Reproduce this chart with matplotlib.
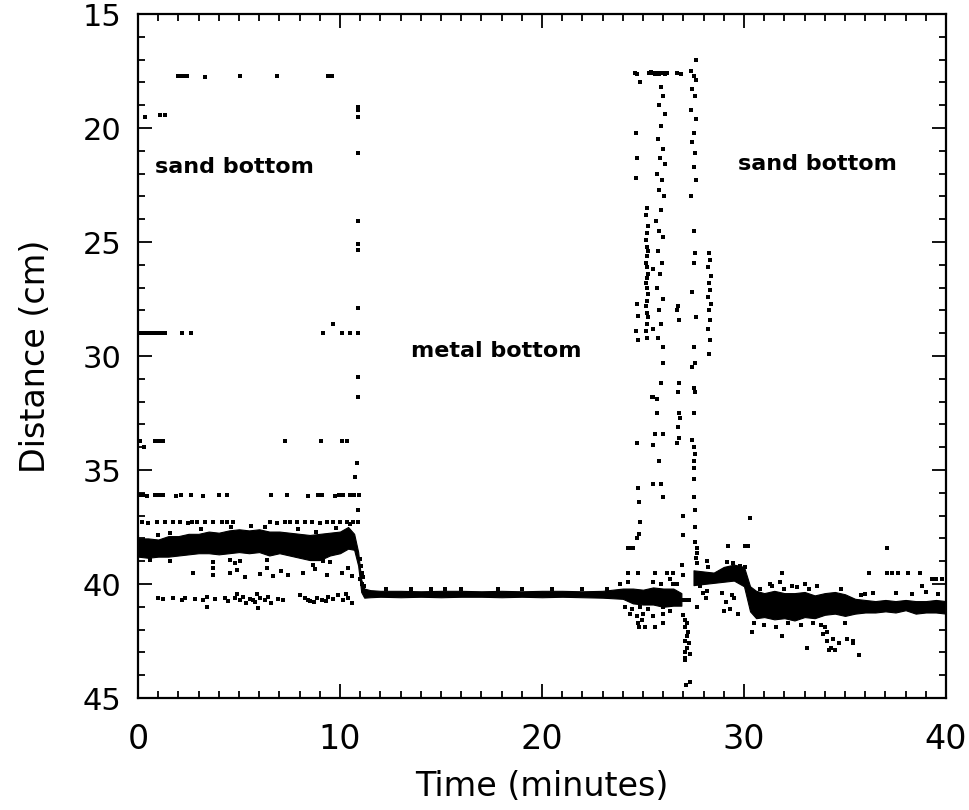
import matplotlib
matplotlib.use("Agg")
import matplotlib.pyplot as plt
from matplotlib.ticker import MultipleLocator

# ---------------- data ----------------
# dense core of the echo trace: time, upper distance, lower distance
band1_t   = [0.0, 0.5, 1.0, 1.5, 2.0, 2.5, 3.0, 3.5, 4.0, 4.5, 5.0, 5.5, 6.0, 6.5, 7.0, 7.5,
             8.0, 8.5, 9.0, 9.5, 10.0, 10.4, 10.7, 10.9, 11.05, 11.2, 11.5, 12.0, 13.0, 14.0,
             15.0, 16.0, 17.0, 18.0, 19.0, 20.0, 21.0, 22.0, 23.0, 24.0, 24.5, 25.0, 25.5,
             26.0, 26.5, 26.9]
band1_top = [38.0, 38.0, 38.05, 37.9, 37.9, 37.8, 37.8, 37.7, 37.75, 37.65, 37.6, 37.65, 37.6,
             37.7, 37.7, 37.75, 37.8, 37.85, 37.8, 37.75, 37.7, 37.5, 37.8, 38.6, 39.8, 40.2,
             40.27, 40.3, 40.3, 40.32, 40.3, 40.3, 40.32, 40.3, 40.32, 40.3, 40.3, 40.32, 40.3,
             40.2, 40.2, 40.25, 40.15, 40.2, 40.2, 40.4]
band1_bot = [38.8, 38.85, 38.8, 38.8, 38.75, 38.7, 38.65, 38.65, 38.7, 38.65, 38.6, 38.65, 38.6,
             38.75, 38.65, 38.75, 38.85, 38.95, 38.95, 38.75, 38.65, 38.45, 38.5, 39.2, 40.35,
             40.6, 40.58, 40.56, 40.58, 40.56, 40.58, 40.56, 40.56, 40.58, 40.56, 40.58, 40.56,
             40.58, 40.6, 40.65, 40.85, 40.9, 40.9, 41.0, 40.95, 40.95]

band2_t   = [27.5, 28.0, 28.5, 29.0, 29.5, 30.0, 30.3, 30.6, 31.0, 31.5, 32.0, 32.5, 33.0,
             33.5, 34.0, 34.5, 35.0, 35.5, 36.0, 36.5, 37.0, 37.5, 38.0, 38.5, 39.0, 39.5, 40.0]
band2_top = [39.4, 39.45, 39.5, 39.25, 39.15, 39.25, 40.1, 40.3, 40.4, 40.3, 40.4, 40.4, 40.35,
             40.5, 40.4, 40.35, 40.45, 40.65, 40.7, 40.75, 40.7, 40.75, 40.7, 40.75, 40.75,
             40.7, 40.75]
band2_bot = [40.05, 40.0, 39.95, 39.9, 39.85, 40.1, 41.2, 41.5, 41.45, 41.55, 41.5, 41.6,
             41.45, 41.5, 41.35, 41.3, 41.4, 41.3, 41.25, 41.25, 41.2, 41.25, 41.15, 41.3,
             41.25, 41.25, 41.3]

# scattered echoes, first sand bottom (time, distance)
sand1_pts = [
    (2.0, 17.7), (2.15, 17.7), (2.3, 17.72), (2.45, 17.7), (3.3, 17.75), (5.05, 17.72),
    (6.9, 17.7), (9.4, 17.7), (9.5, 17.72), (9.6, 17.7),
    (0.35, 19.5), (1.1, 19.45), (1.35, 19.45),
    (10.9, 19.1), (10.9, 19.2), (10.9, 19.5), (10.9, 21.1), (10.9, 24.1), (10.9, 25.1),
    (10.9, 25.35), (10.9, 27.9), (10.9, 30.9), (10.9, 31.8), (10.85, 34.7), (10.75, 35.3),
    (10.9, 36.75),
    (0.1, 29.0), (0.25, 29.0), (0.45, 29.0), (0.6, 29.0), (0.75, 29.0), (0.9, 29.0),
    (1.05, 29.0), (1.2, 29.0), (1.35, 29.0), (2.2, 29.0), (2.6, 29.0), (9.15, 29.0),
    (9.65, 28.6), (10.1, 29.0), (10.5, 29.0), (10.9, 29.0),
    (0.1, 33.73), (0.3, 34.0), (0.85, 33.73), (1.05, 33.73), (1.25, 33.73), (7.28, 33.73),
    (9.06, 33.73), (10.1, 33.73), (10.35, 33.73),
    (0.1, 36.1), (0.25, 36.1), (0.45, 36.12), (0.85, 36.1), (1.05, 36.1), (1.25, 36.1),
    (1.9, 36.12), (2.15, 36.1), (2.6, 36.1), (3.2, 36.12), (4.0, 36.1), (4.4, 36.1),
    (6.6, 36.1), (7.4, 36.1), (8.4, 36.12), (8.9, 36.1), (9.1, 36.1), (9.75, 36.12),
    (9.95, 36.1), (10.15, 36.1), (10.5, 36.1), (10.7, 36.1), (10.95, 36.1),
    (0.18, 37.3), (0.51, 37.32), (0.92, 37.3), (1.34, 37.3), (1.75, 37.28), (2.08, 37.3),
    (2.49, 37.32), (2.66, 37.3), (2.9, 37.3), (3.32, 37.3), (3.73, 37.28), (4.14, 37.3),
    (4.39, 37.3), (4.72, 37.3), (6.53, 37.3), (6.86, 37.32), (7.28, 37.3), (7.52, 37.3),
    (7.85, 37.28), (8.27, 37.3), (8.6, 37.3), (9.01, 37.32), (9.34, 37.3), (9.67, 37.3),
    (10.0, 37.3), (10.33, 37.28), (10.66, 37.3), (10.9, 37.3),
    (1.0, 37.85), (1.6, 37.75), (3.1, 37.6), (4.6, 37.5), (5.6, 37.45), (6.3, 37.5),
    (7.9, 37.6), (8.8, 37.7), (9.8, 37.55), (10.5, 37.35),
    (1.0, 40.6), (1.25, 40.65), (1.75, 40.6), (2.16, 40.7), (2.33, 40.6), (2.82, 40.65),
    (3.23, 40.7), (3.4, 40.55), (3.81, 40.65), (4.31, 40.6), (4.47, 40.75), (4.8, 40.6),
    (5.05, 40.7), (5.21, 40.55), (5.54, 40.65), (5.79, 40.8), (6.04, 40.6), (6.29, 40.7),
    (6.45, 40.55), (6.95, 40.65), (7.2, 40.7), (8.27, 40.6), (8.52, 40.75), (8.84, 40.6),
    (9.09, 40.7), (9.42, 40.55), (9.67, 40.65), (10.17, 40.7), (10.41, 40.6),
    (4.9, 40.45), (5.35, 40.85), (5.9, 40.45), (6.6, 40.85), (8.0, 40.5), (8.7, 40.8),
    (9.9, 40.5), (10.6, 40.85), (10.3, 40.45), (5.7, 40.7), (8.4, 40.7), (9.3, 40.75),
    (2.74, 39.5), (3.73, 39.3), (3.73, 39.6), (4.55, 39.5), (4.88, 39.4), (5.3, 39.7),
    (6.04, 39.55), (6.37, 39.3), (6.7, 39.65), (7.1, 39.45), (7.44, 39.6), (8.18, 39.5),
    (8.76, 39.35), (9.34, 39.6), (10.08, 39.5), (10.41, 39.3), (10.58, 39.65),
    (0.6, 38.95), (1.58, 39.0), (3.73, 39.05), (4.55, 38.95), (4.8, 39.1), (5.05, 39.0),
    (6.37, 38.95), (8.68, 39.15), (9.17, 39.0), (9.5, 39.05), (5.96, 41.05), (3.4, 41.0),
    (11.0, 38.9), (11.05, 39.2), (11.1, 39.5), (11.0, 39.8), (11.1, 40.0), (11.15, 39.7),
    (11.2, 40.1), (11.25, 40.3),
]

# metal bottom scattered echoes
metal_pts = [(12.3, 40.2), (13.5, 40.22), (14.5, 40.2), (15.2, 40.22), (16.0, 40.2),
             (17.8, 40.2), (19.0, 40.22), (20.5, 40.2), (22.0, 40.22), (23.2, 40.2),
             (23.86, 40.0), (24.26, 39.9)]

# transition region (24 - 28.5 min)
spike_pts = [
    (24.26, 38.4), (24.35, 38.4), (24.5, 38.4), (24.85, 37.3), (24.8, 37.8), (24.8, 36.4),
    (24.26, 39.5), (24.75, 39.5),
    (24.1, 41.0), (24.45, 41.1), (24.7, 41.4), (24.75, 41.7), (24.8, 41.9), (24.36, 41.3),
    (24.85, 41.0), (25.0, 41.3), (24.95, 41.6), (25.1, 41.9), (25.25, 41.1), (25.5, 41.4),
    (25.6, 41.9), (26.0, 41.0), (26.0, 41.3), (26.0, 41.7), (26.34, 40.9), (26.34, 41.2),
    (25.6, 39.5), (26.2, 39.5), (26.5, 39.5), (25.5, 39.9), (25.9, 40.0), (26.34, 39.8),
    (26.5, 40.0), (26.7, 40.0),
    (26.9, 40.7), (27.0, 40.7), (27.1, 40.72), (27.2, 40.7), (27.3, 40.7),
    (26.98, 41.36), (27.08, 41.58), (27.18, 41.7), (27.08, 41.9), (27.23, 42.1),
    (27.18, 42.3), (27.08, 42.5), (27.28, 42.6), (27.2, 42.8), (27.1, 43.0), (27.33, 43.05),
    (27.08, 43.25), (27.08, 43.35), (27.33, 44.3), (27.15, 44.45),
    (26.98, 37.0), (26.98, 37.85), (26.93, 39.17), (26.98, 39.6),
    # column near 24.7 min
    (24.65, 20.2), (24.7, 21.3), (24.65, 22.2), (24.7, 27.7), (24.75, 28.25), (24.65, 28.9),
    (24.75, 29.3), (24.7, 33.8), (24.75, 35.8), (24.7, 38.0),
    # column near 25.2 min
    (25.2, 23.5), (25.15, 23.8), (25.25, 24.3), (25.2, 24.6), (25.15, 24.9), (25.2, 25.2),
    (25.25, 25.4), (25.2, 25.6), (25.15, 25.9), (25.2, 26.1), (25.25, 26.4), (25.2, 26.6),
    (25.15, 26.8), (25.2, 27.0), (25.25, 27.3), (25.2, 27.6), (25.15, 27.8), (25.2, 28.1),
    (25.25, 28.3), (25.2, 28.6), (25.15, 28.9), (25.2, 29.2),
    (25.5, 26.2), (25.5, 28.8), (25.5, 31.8), (25.5, 33.9), (25.5, 35.6),
    # column near 25.9 min
    (25.9, 18.2), (26.0, 18.6), (25.8, 19.0), (26.1, 19.4), (25.9, 19.9), (25.75, 20.5),
    (26.0, 20.9), (25.85, 21.3), (26.1, 21.6), (25.7, 22.0), (25.95, 22.3), (25.8, 22.7),
    (26.05, 23.0), (25.9, 23.6), (25.65, 24.1), (25.8, 24.5), (26.0, 24.8), (25.75, 25.4),
    (25.95, 25.9), (25.85, 26.4), (25.7, 27.0), (26.0, 27.5), (25.8, 28.0), (25.9, 28.6),
    (25.75, 29.2), (26.0, 29.6), (25.9, 31.2), (25.7, 31.9), (26.0, 33.4), (25.8, 34.6),
    (25.9, 35.6), (26.0, 36.2), (25.7, 32.5), (26.0, 30.3), (25.6, 33.4), (25.45, 31.8),
    # top row near 17.6 cm
    (24.6, 17.6), (24.7, 17.65), (25.3, 17.6), (25.4, 17.55), (25.5, 17.6), (25.6, 17.65),
    (25.7, 17.6), (25.8, 17.62), (25.9, 17.58), (26.0, 17.6), (26.1, 17.65), (26.2, 17.6),
    (26.7, 17.6), (26.9, 17.62), (24.85, 18.0),
    # column near 27.5 min
    (27.6, 17.0), (27.4, 17.5), (27.5, 17.7), (27.6, 17.9), (27.45, 18.3), (27.55, 18.6),
    (27.4, 19.2), (27.6, 19.6), (27.5, 20.2), (27.45, 20.6), (27.55, 21.1), (27.5, 21.7),
    (27.6, 22.3), (27.4, 23.0), (27.5, 24.5), (27.55, 25.5), (27.5, 25.9), (27.45, 27.2),
    (27.6, 28.3), (27.5, 29.6), (27.55, 30.3), (27.45, 30.5), (27.5, 31.4), (27.55, 31.6),
    (27.5, 32.5), (27.45, 33.7), (27.5, 34.0), (27.55, 34.3), (27.5, 34.6), (27.5, 34.9),
    (27.5, 35.4), (27.5, 36.2), (27.57, 36.75), (27.57, 37.5), (27.57, 38.15),
    (27.67, 38.4), (27.67, 38.65), (27.6, 38.86), (27.65, 39.1),
    # column near 28.3 min
    (28.25, 25.5), (28.3, 25.8), (28.2, 26.1), (28.35, 26.5), (28.25, 26.8), (28.3, 27.1),
    (28.2, 27.4), (28.35, 27.7), (28.25, 28.0), (28.3, 28.4), (28.2, 28.8), (28.3, 29.3),
    (28.25, 29.9),
    # column near 26.8 min
    (26.75, 27.8), (26.8, 28.4), (26.7, 28.0), (26.8, 31.2), (26.75, 31.6), (26.8, 32.5),
    (26.85, 32.7), (26.75, 33.1), (26.8, 33.6), (26.7, 33.8),
]

# second sand bottom scattered echoes
sand2_pts = [
    (28.17, 39.0), (28.2, 39.25), (27.8, 40.1), (27.95, 40.4), (28.1, 40.6), (28.15, 40.3),
    (27.67, 41.0), (29.16, 39.03), (29.45, 39.1), (29.8, 39.2), (30.05, 39.25),
    (28.9, 40.4), (29.1, 40.8), (29.3, 41.1), (29.5, 40.6), (29.7, 41.3), (29.0, 41.2),
    (29.4, 40.5),
    (30.3, 37.1), (29.2, 38.33), (30.05, 38.33), (30.2, 38.33),
    (30.4, 42.1), (31.9, 42.3), (33.1, 42.8), (33.9, 42.2), (34.1, 42.5), (34.3, 42.8),
    (34.5, 42.9), (34.7, 42.6), (34.2, 42.9), (34.4, 42.4), (35.1, 42.4), (35.4, 42.6),
    (35.4, 42.5), (35.7, 43.1),
    (31.88, 39.5), (31.3, 40.0), (31.8, 39.9), (32.4, 40.1), (33.0, 40.0), (33.6, 40.1),
    (34.8, 40.2),
    (36.2, 39.5), (37.1, 39.5), (37.35, 39.5), (37.6, 39.5), (38.1, 39.5), (38.7, 39.5),
    (39.3, 39.8), (39.5, 39.8), (39.8, 39.8), (38.8, 40.1), (39.0, 40.35), (37.1, 38.4),
    (30.5, 41.7), (31.0, 41.8), (31.6, 41.9), (32.2, 41.7), (32.8, 41.8), (33.4, 41.7),
    (30.8, 40.2), (31.4, 40.1), (32.0, 40.2), (32.6, 40.15), (33.2, 40.2), (35.8, 40.5),
    (36.0, 40.45), (34.0, 41.9), (34.1, 42.1), (33.8, 41.8), (35.0, 41.7), (36.4, 40.4),
    (37.5, 40.4), (38.3, 40.45), (39.6, 40.45),
]

# labels
region_labels = ["sand bottom", "metal bottom", "sand bottom"]
region_pos = [(0.85, 21.7), (13.5, 29.8), (29.7, 21.6)]
x_ticks = [0, 10, 20, 30, 40]
y_ticks = [15, 20, 25, 30, 35, 40, 45]

# ---------------- figure ----------------
fig = plt.figure(figsize=(9.7, 8.1), dpi=100)
ax = fig.add_axes([138/970, 1-698/810, (946-138)/970, (698-14)/810])

ax.fill_between(band1_t, band1_top, band1_bot, color="black", linewidth=0.8)
ax.fill_between(band2_t, band2_top, band2_bot, color="black", linewidth=0.8)

mk = dict(marker="s", ms=2.6, mew=0, color="black", linestyle="none")
for pts in (sand1_pts, metal_pts, spike_pts, sand2_pts):
    ax.plot([p[0] for p in pts], [p[1] for p in pts], **mk)

ax.set_xlim(0, 40)
ax.set_ylim(45, 15)
ax.set_xticks(x_ticks)
ax.set_yticks(y_ticks)
ax.xaxis.set_minor_locator(MultipleLocator(1))
ax.yaxis.set_minor_locator(MultipleLocator(1))
ax.tick_params(which="both", direction="in", top=True, right=True, width=1.3, color="black")
ax.tick_params(which="major", length=10)
ax.tick_params(which="minor", length=5)
ax.tick_params(axis="x", which="major", pad=18, labelsize=24)
ax.tick_params(axis="y", which="major", pad=12, labelsize=22)
for s in ax.spines.values():
    s.set_linewidth(1.6)

ax.set_xlabel("Time (minutes)", fontsize=24, labelpad=10)
ax.set_ylabel("Distance (cm)", fontsize=24, labelpad=22)

for lab, (px, py) in zip(region_labels, region_pos):
    ax.text(px, py, lab, fontsize=16, fontweight="bold", va="center", ha="left")

fig.savefig("out.png", dpi=100)
